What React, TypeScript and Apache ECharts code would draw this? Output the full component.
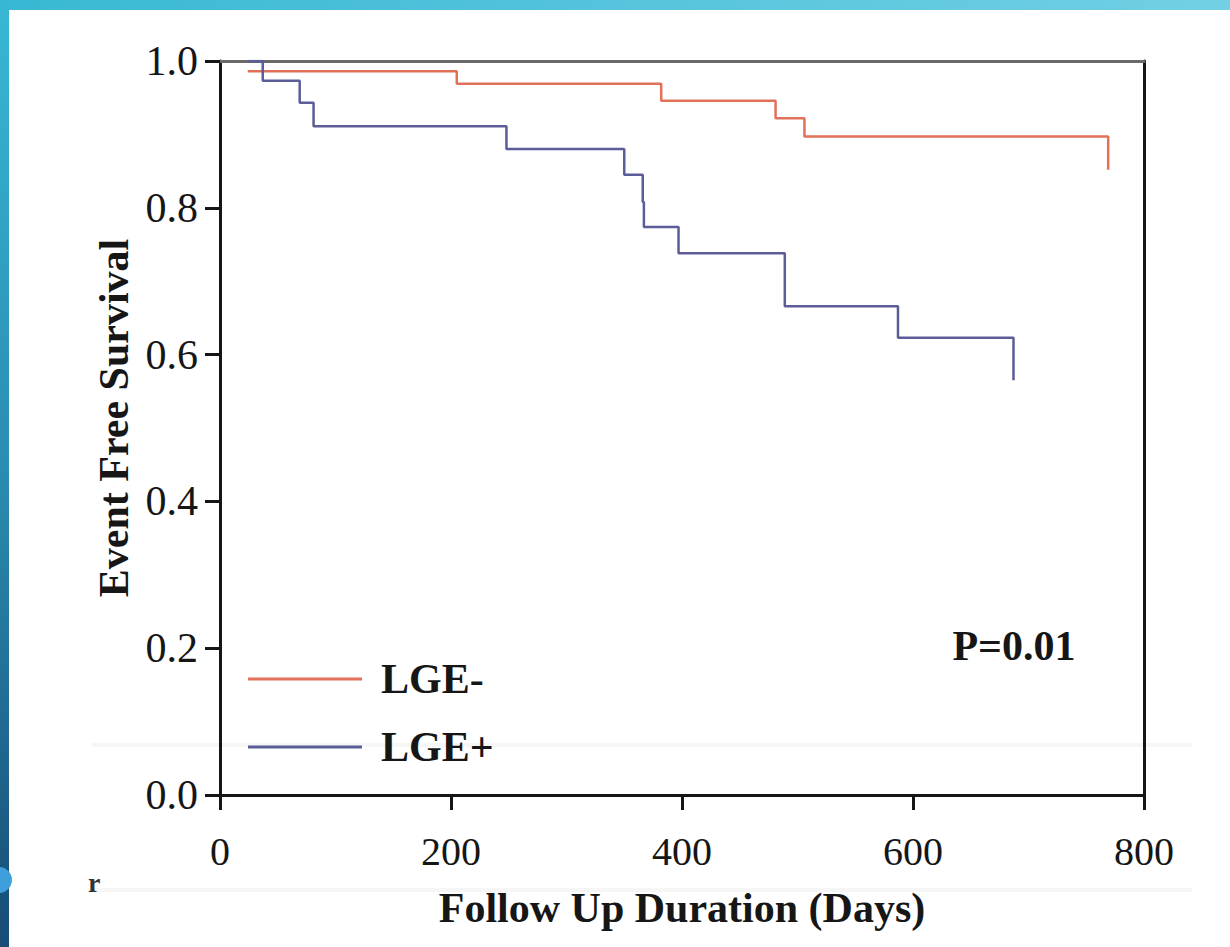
import React, { useEffect, useRef } from "react";
import * as echarts from "echarts";

// ---- data ----
const xTickValues = [0, 200, 400, 600, 800];
const yTickValues = [0, 0.2, 0.4, 0.6, 0.8, 1.0];

// LGE- (red) Kaplan–Meier steps: day of event, survival after event
const lgeNegDays = [24, 205, 382, 481, 506, 769];
const lgeNegSurv = [0.986, 0.969, 0.946, 0.922, 0.897, 0.852];

// LGE+ (blue)
const lgePosDays = [24, 37, 69, 81, 248, 350, 366, 367, 397, 489, 587, 687];
const lgePosSurv = [1.0, 0.973, 0.943, 0.911, 0.88, 0.845, 0.808, 0.774, 0.738, 0.666, 0.623, 0.565];

const seriesNames = ["LGE-", "LGE+"];
const pValueText = "P=0.01";
const xTitle = "Follow Up Duration (Days)";
const yTitle = "Event Free Survival";

const FONT = "'Liberation Serif', 'Times New Roman', serif";
const INK = "#161616";

export default function App() {
  const ref = useRef<HTMLDivElement>(null);

  useEffect(() => {
    if (!ref.current) return;
    const chart = echarts.init(ref.current, null, { renderer: "svg" });

    const negData = lgeNegDays.map((d, i) => [d, lgeNegSurv[i]]);
    const posData = lgePosDays.map((d, i) => [d, lgePosSurv[i]]);

    chart.setOption({
      animation: false,
      backgroundColor: "#ffffff",
      grid: { left: 220, right: 86, top: 61, bottom: 152, containLabel: false },
      legend: {
        show: true,
        orient: "vertical",
        left: 243,
        top: 653,
        itemWidth: 114,
        itemHeight: 3,
        itemGap: 26,
        selectedMode: false,
        icon: "rect",
        textStyle: {
          fontFamily: FONT,
          fontSize: 42,
          fontWeight: "bold",
          color: INK,
          lineHeight: 42,
          padding: [0, 0, 0, 14],
        },
        data: seriesNames,
      },
      xAxis: [
        {
          type: "value",
          min: 0,
          max: 800,
          interval: 200,
          position: "bottom",
          axisLine: { show: true, onZero: false, lineStyle: { color: INK, width: 3 } },
          axisTick: { show: true, inside: false, length: 15, lineStyle: { color: INK, width: 3 } },
          axisLabel: {
            fontFamily: FONT,
            fontSize: 40,
            color: INK,
            margin: 36,
            formatter: (v: number) => (xTickValues.includes(v) ? String(v) : ""),
          },
          splitLine: { show: false },
          name: xTitle,
          nameLocation: "middle",
          nameGap: 92,
          nameTextStyle: { fontFamily: FONT, fontSize: 42, fontWeight: "bold", color: INK },
        },
        {
          type: "value",
          min: 0,
          max: 800,
          position: "top",
          axisLine: { show: true, onZero: false, lineStyle: { color: "#6a6a6a", width: 3 } },
          axisTick: { show: false },
          axisLabel: { show: false },
          splitLine: { show: false },
        },
      ],
      yAxis: [
        {
          type: "value",
          min: 0,
          max: 1,
          interval: 0.2,
          axisLine: { show: true, onZero: false, lineStyle: { color: INK, width: 3 } },
          axisTick: { show: true, inside: false, length: 15, lineStyle: { color: INK, width: 3 } },
          axisLabel: {
            fontFamily: FONT,
            fontSize: 42,
            color: INK,
            margin: 22,
            formatter: (v: number) => {
              const hit = yTickValues.find((t) => Math.abs(t - v) < 1e-6);
              return hit === undefined ? "" : hit.toFixed(1);
            },
          },
          splitLine: { show: false },
          name: yTitle,
          nameLocation: "middle",
          nameGap: 82,
          nameRotate: 90,
          nameTextStyle: {
            fontFamily: FONT,
            fontSize: 42,
            fontWeight: "bold",
            color: INK,
            padding: [0, 0, 0, 20],
          },
        },
        {
          type: "value",
          min: 0,
          max: 1,
          position: "right",
          axisLine: { show: true, onZero: false, lineStyle: { color: INK, width: 3 } },
          axisTick: { show: false },
          axisLabel: { show: false },
          splitLine: { show: false },
        },
      ],
      series: [
        {
          name: seriesNames[0],
          type: "line",
          step: "end",
          data: negData,
          showSymbol: false,
          symbol: "none",
          color: "#e2715a",
          lineStyle: { color: "#e2715a", width: 2.5 },
          z: 3,
        },
        {
          name: seriesNames[1],
          type: "line",
          step: "end",
          data: posData,
          showSymbol: false,
          symbol: "none",
          color: "#5a5d98",
          lineStyle: { color: "#5a5d98", width: 2.5 },
          z: 4,
        },
      ],
      graphic: [
        // slide frame: top bar and left bar
        {
          type: "rect",
          z: 100,
          shape: { x: 0, y: 0, width: 1230, height: 10 },
          style: {
            fill: new echarts.graphic.LinearGradient(0, 0, 1, 0, [
              { offset: 0, color: "#38b8d4" },
              { offset: 1, color: "#72d0e4" },
            ]),
          },
        },
        {
          type: "rect",
          z: 100,
          shape: { x: 0, y: 0, width: 9, height: 947 },
          style: {
            fill: new echarts.graphic.LinearGradient(0, 0, 0, 1, [
              { offset: 0, color: "#38b8d4" },
              { offset: 0.5, color: "#2a8cb0" },
              { offset: 1, color: "#174c76" },
            ]),
          },
        },
        {
          type: "circle",
          z: 101,
          shape: { cx: -1, cy: 880, r: 13 },
          style: { fill: "#3f9fdc" },
        },
        // faint scan bands
        {
          type: "rect",
          z: 0,
          shape: { x: 92, y: 743, width: 1100, height: 4 },
          style: { fill: "#f6f6f6" },
        },
        {
          type: "rect",
          z: 0,
          shape: { x: 92, y: 888, width: 1100, height: 4 },
          style: { fill: "#f6f6f6" },
        },
        {
          type: "text",
          z: 10,
          x: 88,
          y: 868,
          style: { text: "r", fontFamily: FONT, fontSize: 28, fontWeight: "bold", fill: "#333" },
        },
        {
          type: "text",
          z: 10,
          x: 1014,
          y: 646,
          style: {
            text: pValueText,
            fontFamily: FONT,
            fontSize: 42,
            fontWeight: "bold",
            fill: INK,
            align: "center",
            verticalAlign: "middle",
          },
        },
      ],
    });

    return () => {
      chart.dispose();
    };
  }, []);

  return (
    <div
      ref={ref}
      style={{ position: "fixed", left: 0, top: 0, width: 1230, height: 947, background: "#fff" }}
    />
  );
}
